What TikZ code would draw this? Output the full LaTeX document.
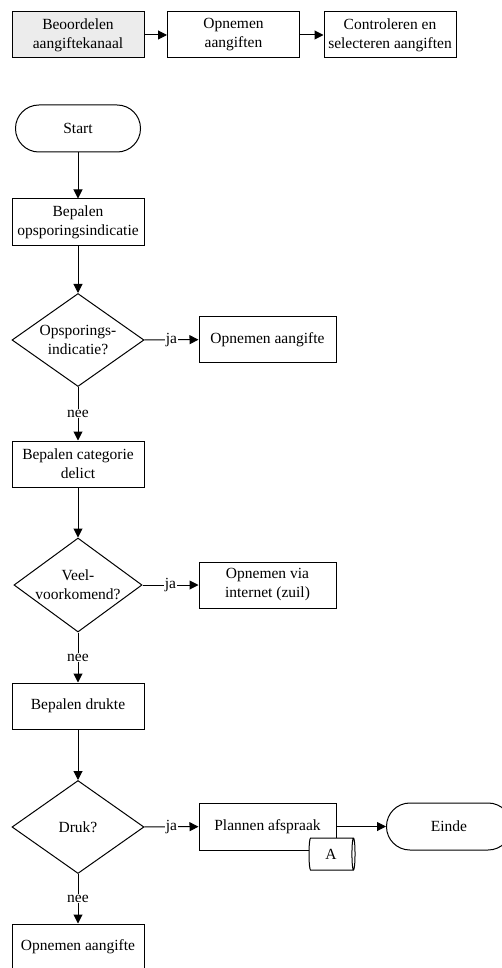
\documentclass[tikz,border=0pt]{standalone}
\usepackage{fontspec}
\setmainfont{Liberation Serif}
\usetikzlibrary{shapes.geometric,arrows.meta}

\tikzset{
  stap/.style={draw,rectangle,align=center,inner sep=1pt,
    minimum width=66pt,minimum height=23pt},
  keuze/.style={draw,diamond,align=center,inner sep=0pt,aspect=1.43,
    minimum width=66pt,minimum height=46.5pt},
  grens/.style={draw,rectangle,rounded corners=11.7pt,
    minimum width=62.5pt,minimum height=23.5pt},
  pijl/.style={line width=0.5pt,-{Triangle[length=4.5pt,width=4.5pt]}},
  tekst/.style={fill=white,inner sep=0.5pt},
}

\begin{document}
\begin{tikzpicture}[x=0.5pt,y=-0.5pt,line width=0.5pt,
    font=\fontsize{7.75}{9.5}\selectfont]
       \useasboundingbox(0,0)rectangle(502,968);
       \clip(0,0)rectangle(502,968);

       \node[stap,fill=gray!15](kanaal)at(78,35){Beoordelen\\aangiftekanaal};%proces boven
       \node[stap](opnemen)at(233.5,35){Opnemen\\aangiften};
       \node[stap](controle)at(390,35){Controleren en\\selecteren aangiften};
       \draw[pijl](kanaal)--(opnemen);
       \draw[pijl](opnemen)--(controle);

       \node[grens](start)at(78,128.5){Start};%begin
       \node[stap](indicatie)at(78,222){Bepalen\\opsporingsindicatie};
       \node[keuze](opsp)at(78,340){Opsporings-\\indicatie?};
       \node[stap,minimum width=68.5pt](aangifte)at(267.5,339.5){Opnemen aangifte};
       \node[stap](categorie)at(78,464){Bepalen categorie\\delict};
       \node[keuze,minimum width=62.5pt,minimum height=47pt](veel)at(78,585){Veel-\\voorkomend?};
       \node[stap,minimum width=68.5pt](internet)at(267.5,585){Opnemen via\\internet (zuil)};
       \node[stap](drukte)at(78,706){Bepalen drukte};
       \node[keuze](druk)at(78,827){Druk?};
       \node[stap,minimum width=68.5pt,minimum height=23.5pt](plannen)at(267.5,826.5){Plannen afspraak};
       \node[grens](einde)at(449,826.5){Einde};%einde
       \node[draw,cylinder,fill=white,aspect=0.3,minimum width=16pt,
           minimum height=23pt,inner sep=0pt](conn)at(331,854){A};%connector
       \node[stap](aangifte2)at(78,947){Opnemen aangifte};

       \draw[pijl](start)--(indicatie);
       \draw[pijl](indicatie)--(opsp);
       \draw[pijl](opsp)--node[tekst]{ja}(aangifte);
       \draw[pijl](opsp)--node[tekst]{nee}(categorie);
       \draw[pijl](categorie)--(veel);
       \draw[pijl](veel)--node[tekst]{ja}(internet);
       \draw[pijl](veel)--node[tekst]{nee}(drukte);
       \draw[pijl](drukte)--(druk);
       \draw[pijl](druk)--node[tekst]{ja}(plannen);
       \draw[pijl](druk)--node[tekst]{nee}(aangifte2);
       \draw[pijl](plannen)--(einde);
\end{tikzpicture}
\end{document}
